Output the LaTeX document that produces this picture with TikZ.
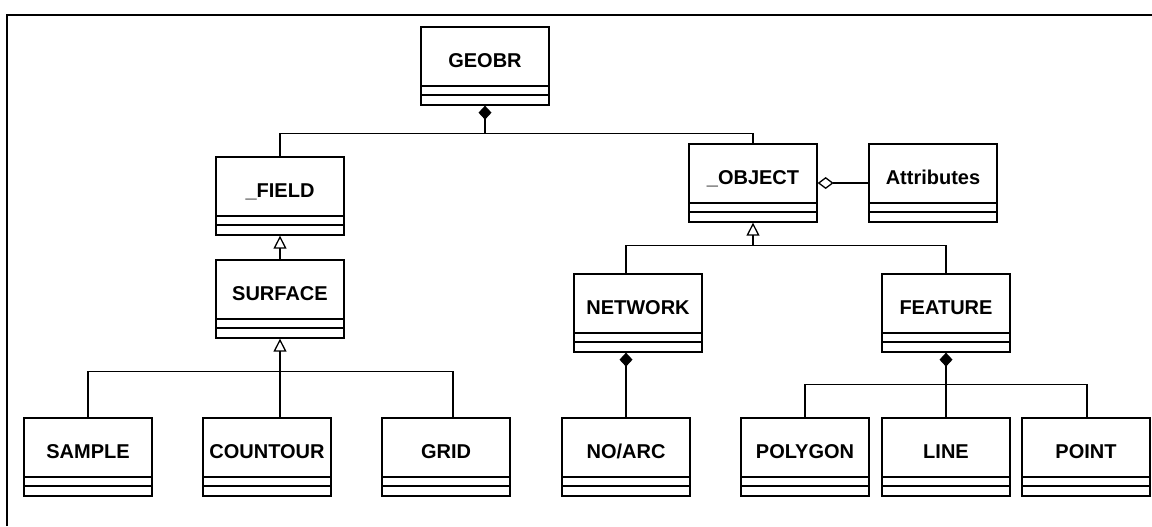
\documentclass[tikz,border=0pt]{standalone}
\usepackage{fontspec}
\setmainfont{Liberation Sans}
\usetikzlibrary{arrows.meta}
\newcommand\Klasse[4]{
  \node[klasse] (#1) at ({#2+64},{#3+39}) {};
  \node[klname] (#1-t) at ({#2+64},{#3+40.5}) {#4};
  \draw[thin line]
    (#2,{#3+59}) -- ++(128,0)
    (#2,{#3+68}) -- ++(128,0);
}

\begin{document}
\begin{tikzpicture}[x=0.5pt,y=-0.5pt,
  thin line/.style={line width=0.65pt},
  klasse/.style={draw,thin line,rectangle,inner sep=0pt,
    minimum width=64pt,minimum height=39pt},
  klname/.style={anchor=base,inner sep=0pt,font=\fontsize{10}{12}\selectfont\bfseries},
  comp/.style={thin line,{Diamond[length=7pt,width=6.5pt]}-},
  aggr/.style={thin line,{Diamond[open,length=8pt,width=6pt]}-},
  gen/.style={thin line,{Triangle[open,length=6.5pt,width=6.5pt]}-}]
\useasboundingbox (0,0) rectangle (1152,526);
\draw[line width=1.1pt] (7,526) -- (7,15) -- (1152,15);

\Klasse{geobr}{421}{27}{GEOBR}
\Klasse{field}{216}{157}{\_FIELD}
\Klasse{surface}{216}{260}{SURFACE}
\Klasse{sample}{24}{418}{SAMPLE}
\Klasse{countour}{203}{418}{COUNTOUR}
\Klasse{grid}{382}{418}{GRID}
\Klasse{object}{689}{144}{\_OBJECT}
\Klasse{attrib}{869}{144}{Attributes}
\Klasse{network}{574}{274}{NETWORK}
\Klasse{noarc}{562}{418}{NO/ARC}
\Klasse{feature}{882}{274}{FEATURE}
\Klasse{polygon}{741}{418}{POLYGON}
\Klasse{line}{882}{418}{LINE}
\Klasse{point}{1022}{418}{POINT}

% GEOBR
\draw[comp] (geobr.south) -- ++(0,28) coordinate (aux1);
\draw[thin line] (field.north) |- (aux1) -| (object.north);

% field side
\draw[gen] (field.south) -- (surface.north);
\draw[gen] (surface.south) -- (surface.south |- countour.north);
\draw[thin line] (sample.north) -- ++(0,-46) -| ([xshift=3.5pt]grid.north);

% object side
\draw[aggr] (object.east) -- (attrib.west);
\draw[gen] (object.south) -- ++(0,23) coordinate (aux2);
\draw[thin line] ([xshift=-6pt]network.north) |- (aux2) -| (feature.north);
\draw[comp] ([xshift=-6pt]network.south) -- (noarc.north);
\draw[comp] (feature.south) -- (line.north);
\draw[thin line] ([xshift=0.5pt]point.north) -- ++(0,-33) -| (polygon.north);
\end{tikzpicture}
\end{document}
